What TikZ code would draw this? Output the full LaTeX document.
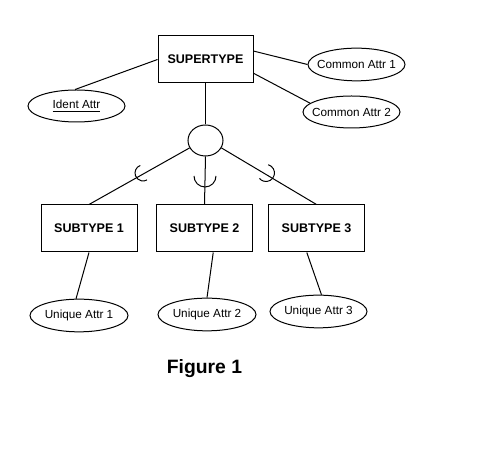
\documentclass[tikz,border=0pt]{standalone}
\usepackage{fontspec}
\setmainfont{Liberation Sans}
\usetikzlibrary{shapes.geometric,calc}
\newcommand\zw[1]{\makebox[0pt]{#1}}
\begin{document}
\begin{tikzpicture}[x=0.75pt,y=-0.75pt,line width=0.75pt,
  entity/.style={draw,rectangle,inner sep=0pt,minimum width=72pt,minimum height=35.25pt,font=\fontsize{9.4}{11}\selectfont\bfseries},
  attr/.style={draw,ellipse,inner sep=0pt,minimum width=72.75pt,minimum height=24.5pt,font=\fontsize{8.8}{10}\selectfont},
  junction/.style={draw,ellipse,inner sep=0pt,minimum width=26.25pt,minimum height=23.25pt},
  link/.style={draw,line width=0.75pt}]
\useasboundingbox (0,0) rectangle (487,473);
% entities
\node[entity,minimum width=71.25pt] (sup) at (205.5,59.5) {SUPERTYPE};
\node[entity] (s1) at (89,228.5) {SUBTYPE 1};
\node[entity] (s2) at (204.5,228.5) {SUBTYPE 2};
\node[entity] (s3) at (316.5,228.5) {SUBTYPE 3};
% attributes
\node[attr,minimum height=24pt] (ident) at (76.5,106) {\zw{\underline{Ident Attr}}};
\node[attr] (c1) at (356.5,64.5) {\zw{Common Attr 1}};
\node[attr,minimum height=24pt] (c2) at (351.5,112) {\zw{Common Attr 2}};
\node[attr,minimum width=73.5pt] (u1) at (79,315.5) {\zw{Unique Attr 1}};
\node[attr,minimum width=73.5pt] (u2) at (207,314.5) {\zw{Unique Attr 2}};
\node[attr] (u3) at (318.5,311.5) {\zw{Unique Attr 3}};
% junction circle
\node[junction] (circ) at (205.5,140.5) {};
% connectors
\draw[link] (sup.west) -- (ident.95);
\draw[link] (sup.10) -- (c1.west);
\draw[link] (sup.-16) -- (c2.168);
\draw[link] (sup.south) -- (circ.north);
\draw[link] (circ.205) -- (s1.north);
\draw[link] (circ.south) -- (s2.north);
\draw[link] (circ.-25) -- (s3.north);
\draw[link] (s1.south) -- (u1.100);
\draw[link] (s2.-70) -- (u2.north);
\draw[link] (s3.-112) -- (u3.80);
% subset symbols
\draw[link] ($(143,173)+(-110:8)$) arc (-110:-300:8);
\draw[link] ($(205,176)+(0:11)$) arc (0:180:11);
\draw[link] ($(266,173)+(-75:8.5)$) arc (-75:140:8.5);
% caption
\node[inner sep=0pt,font=\fontsize{14.5}{17}\selectfont\bfseries] (cap) at (204.5,369) {Figure 1};
\end{tikzpicture}
\end{document}
